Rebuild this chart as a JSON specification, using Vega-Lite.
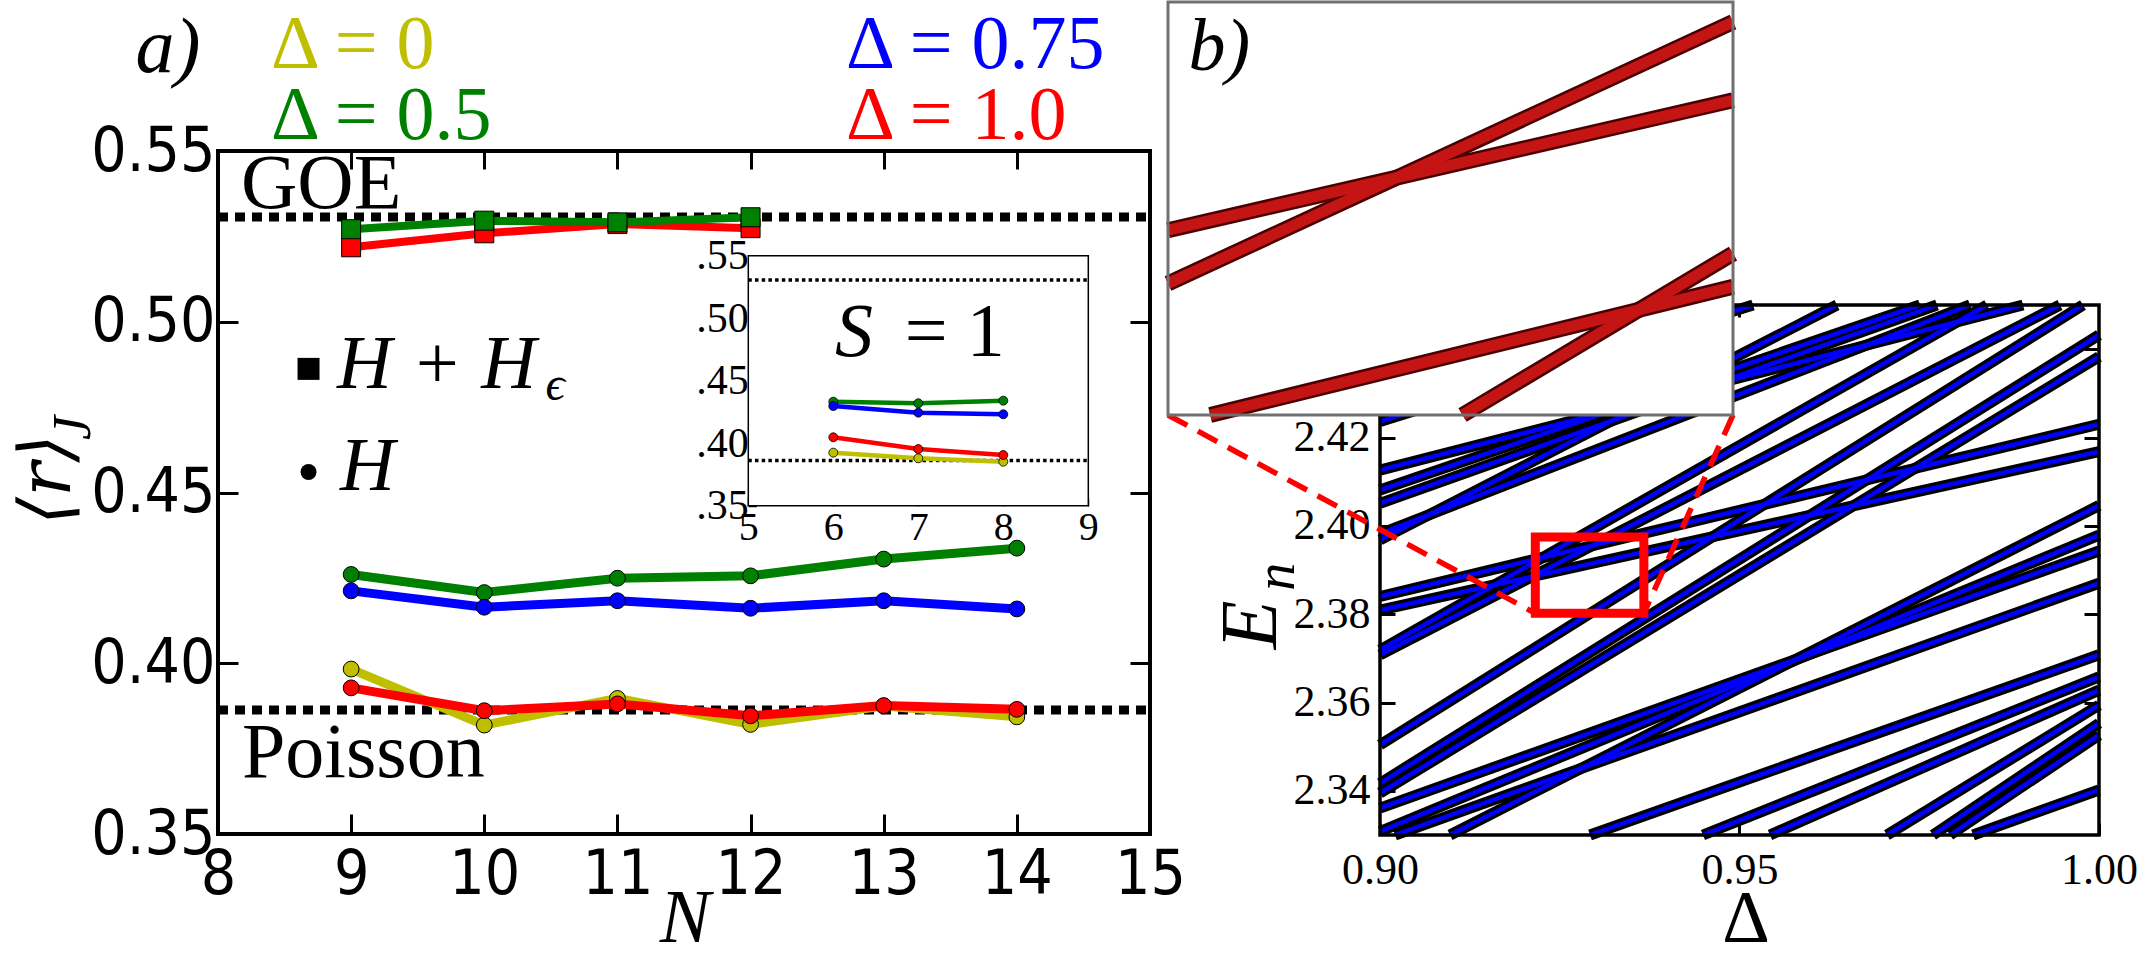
{
  "$schema": "https://vega.github.io/schema/vega-lite/v6.json",
  "background": "white",
  "padding": 0,
  "autosize": {"type": "none"},
  "width": 2140,
  "height": 959,
  "config": {
    "view": {"stroke": null},
    "axis": {"grid": false, "domain": false, "tickColor": "black", "labelColor": "black"},
    "legend": {"disable": true}
  },
  "datasets": {
    "mainA": [
      {"N": 9, "r": 0.3983, "delta": "0", "model": "H"},
      {"N": 10, "r": 0.3819, "delta": "0", "model": "H"},
      {"N": 11, "r": 0.3897, "delta": "0", "model": "H"},
      {"N": 12, "r": 0.3821, "delta": "0", "model": "H"},
      {"N": 13, "r": 0.3875, "delta": "0", "model": "H"},
      {"N": 14, "r": 0.3843, "delta": "0", "model": "H"},
      {"N": 9, "r": 0.4260, "delta": "0.5", "model": "H"},
      {"N": 10, "r": 0.4207, "delta": "0.5", "model": "H"},
      {"N": 11, "r": 0.4249, "delta": "0.5", "model": "H"},
      {"N": 12, "r": 0.4256, "delta": "0.5", "model": "H"},
      {"N": 13, "r": 0.4305, "delta": "0.5", "model": "H"},
      {"N": 14, "r": 0.4337, "delta": "0.5", "model": "H"},
      {"N": 9, "r": 0.4212, "delta": "0.75", "model": "H"},
      {"N": 10, "r": 0.4164, "delta": "0.75", "model": "H"},
      {"N": 11, "r": 0.4183, "delta": "0.75", "model": "H"},
      {"N": 12, "r": 0.4161, "delta": "0.75", "model": "H"},
      {"N": 13, "r": 0.4183, "delta": "0.75", "model": "H"},
      {"N": 14, "r": 0.4159, "delta": "0.75", "model": "H"},
      {"N": 9, "r": 0.3928, "delta": "1.0", "model": "H"},
      {"N": 10, "r": 0.3861, "delta": "1.0", "model": "H"},
      {"N": 11, "r": 0.3881, "delta": "1.0", "model": "H"},
      {"N": 12, "r": 0.3846, "delta": "1.0", "model": "H"},
      {"N": 13, "r": 0.3876, "delta": "1.0", "model": "H"},
      {"N": 14, "r": 0.3865, "delta": "1.0", "model": "H"},
      {"N": 9, "r": 0.5218, "delta": "1.0", "model": "HHe"},
      {"N": 10, "r": 0.5259, "delta": "1.0", "model": "HHe"},
      {"N": 11, "r": 0.5286, "delta": "1.0", "model": "HHe"},
      {"N": 12, "r": 0.5274, "delta": "1.0", "model": "HHe"},
      {"N": 9, "r": 0.5271, "delta": "0.5", "model": "HHe"},
      {"N": 10, "r": 0.5296, "delta": "0.5", "model": "HHe"},
      {"N": 11, "r": 0.5291, "delta": "0.5", "model": "HHe"},
      {"N": 12, "r": 0.5306, "delta": "0.5", "model": "HHe"}
    ],
    "insetA": [
      {"N": 6, "r": 0.3925, "delta": "0"},
      {"N": 7, "r": 0.3880, "delta": "0"},
      {"N": 8, "r": 0.3853, "delta": "0"},
      {"N": 6, "r": 0.4333, "delta": "0.5"},
      {"N": 7, "r": 0.4320, "delta": "0.5"},
      {"N": 8, "r": 0.4341, "delta": "0.5"},
      {"N": 6, "r": 0.4298, "delta": "0.75"},
      {"N": 7, "r": 0.4245, "delta": "0.75"},
      {"N": 8, "r": 0.4232, "delta": "0.75"},
      {"N": 6, "r": 0.4048, "delta": "1.0"},
      {"N": 7, "r": 0.3954, "delta": "1.0"},
      {"N": 8, "r": 0.3906, "delta": "1.0"}
    ],
    "levels": [
      {"id": 1, "d": 0.9, "E": 2.4236}, {"id": 1, "d": 0.95188, "E": 2.45},
      {"id": 2, "d": 0.9, "E": 2.4081}, {"id": 2, "d": 0.9751, "E": 2.45},
      {"id": 3, "d": 0.9, "E": 2.4051}, {"id": 3, "d": 0.97747, "E": 2.45},
      {"id": 4, "d": 0.9, "E": 2.3968}, {"id": 4, "d": 0.96356, "E": 2.45},
      {"id": 5, "d": 0.9, "E": 2.3982}, {"id": 5, "d": 0.98206, "E": 2.45},
      {"id": 6, "d": 0.9, "E": 2.4126}, {"id": 6, "d": 0.98943, "E": 2.45},
      {"id": 7, "d": 0.9, "E": 2.384}, {"id": 7, "d": 1.0, "E": 2.423},
      {"id": 8, "d": 0.9, "E": 2.3809}, {"id": 8, "d": 1.0, "E": 2.4168},
      {"id": 9, "d": 0.9, "E": 2.3719}, {"id": 9, "d": 0.98442, "E": 2.45},
      {"id": 10, "d": 0.9, "E": 2.3708}, {"id": 10, "d": 0.99457, "E": 2.45},
      {"id": 11, "d": 0.9, "E": 2.3504}, {"id": 11, "d": 0.99777, "E": 2.45},
      {"id": 12, "d": 0.9, "E": 2.3417}, {"id": 12, "d": 1.0, "E": 2.4432},
      {"id": 13, "d": 0.9, "E": 2.3395}, {"id": 13, "d": 1.0, "E": 2.4383},
      {"id": 14, "d": 0.9, "E": 2.3361}, {"id": 14, "d": 1.0, "E": 2.3943},
      {"id": 15, "d": 0.9, "E": 2.3308}, {"id": 15, "d": 1.0, "E": 2.3979},
      {"id": 16, "d": 0.90974, "E": 2.33}, {"id": 16, "d": 1.0, "E": 2.4046},
      {"id": 17, "d": 0.92921, "E": 2.33}, {"id": 17, "d": 1.0, "E": 2.3708},
      {"id": 18, "d": 0.94492, "E": 2.33}, {"id": 18, "d": 1.0, "E": 2.3658},
      {"id": 19, "d": 0.95424, "E": 2.33}, {"id": 19, "d": 1.0, "E": 2.3628},
      {"id": 20, "d": 0.97051, "E": 2.33}, {"id": 20, "d": 1.0, "E": 2.3594},
      {"id": 21, "d": 0.97691, "E": 2.33}, {"id": 21, "d": 1.0, "E": 2.3553},
      {"id": 22, "d": 0.97928, "E": 2.33}, {"id": 22, "d": 1.0, "E": 2.3526},
      {"id": 23, "d": 0.98248, "E": 2.33}, {"id": 23, "d": 1.0, "E": 2.3402},
      {"id": 24, "d": 0.90209, "E": 2.33}, {"id": 24, "d": 1.0, "E": 2.387}
    ],
    "zoomLevels": [
      {"id": 1, "d": 0.92, "E": 2.38895}, {"id": 1, "d": 0.935, "E": 2.39524},
      {"id": 2, "d": 0.92, "E": 2.38637}, {"id": 2, "d": 0.935, "E": 2.39903},
      {"id": 3, "d": 0.92112, "E": 2.38}, {"id": 3, "d": 0.935, "E": 2.38621},
      {"id": 4, "d": 0.92782, "E": 2.38}, {"id": 4, "d": 0.935, "E": 2.38782}
    ]
  },
  "resolve": {"scale": {"x": "independent", "y": "independent"}, "axis": {"x": "independent", "y": "independent"}},
  "layer": [
    {
      "resolve": {"axis": {"x": "independent", "y": "independent"}},
      "layer": [
        {
          "data": {"values": [{"r": 0.5307}, {"r": 0.3863}]},
          "mark": {"type": "rule", "color": "black", "strokeWidth": 9, "strokeDash": [10, 7]},
          "encoding": {
            "x": {"datum": 8, "type": "quantitative", "scale": {"domain": [8, 15], "range": [218, 1150], "nice": false, "zero": false}, "axis": null},
            "x2": {"datum": 15},
            "y": {"field": "r", "type": "quantitative", "scale": {"domain": [0.35, 0.55], "range": [834, 151], "nice": false, "zero": false}, "axis": null}
          }
        },
        {
          "data": {"name": "mainA"},
          "transform": [{"filter": "datum.model === 'H'"}],
          "mark": {"type": "line", "strokeWidth": 9},
          "encoding": {
            "x": {"field": "N", "type": "quantitative", "scale": {"domain": [8, 15], "range": [218, 1150], "nice": false, "zero": false},
              "axis": {"orient": "bottom", "offset": -125, "values": [8, 9, 10, 11, 12, 13, 14, 15], "format": "d", "tickSize": -20, "tickWidth": 3, "labelFont": "DejaVu Sans Condensed", "labelFontSize": 62, "labelPadding": 30, "labelFlush": false, "labelOverlap": false, "title": null}},
            "y": {"field": "r", "type": "quantitative", "scale": {"domain": [0.35, 0.55], "range": [834, 151], "nice": false, "zero": false},
              "axis": {"orient": "left", "offset": -218, "values": [0.35, 0.4, 0.45, 0.5, 0.55], "format": ".2f", "tickSize": -20, "tickWidth": 3, "labelFont": "DejaVu Sans Condensed", "labelFontSize": 62, "labelPadding": 23, "labelFlush": false, "labelOverlap": false, "title": null}},
            "color": {"field": "delta", "type": "nominal", "scale": {"domain": ["0", "0.5", "0.75", "1.0"], "range": ["#bfbf00", "#008000", "#0000ff", "#ff0000"]}, "legend": null}
          }
        },
        {
          "data": {"name": "mainA"},
          "transform": [{"filter": "datum.model === 'H'"}],
          "mark": {"type": "point", "filled": true, "size": 250, "stroke": "black", "strokeWidth": 1, "opacity": 1},
          "encoding": {
            "x": {"field": "N", "type": "quantitative", "scale": {"domain": [8, 15], "range": [218, 1150], "nice": false, "zero": false},
              "axis": {"orient": "top", "offset": -151, "values": [9, 10, 11, 12, 13, 14], "labels": false, "tickSize": -18, "tickWidth": 3, "title": null}},
            "y": {"field": "r", "type": "quantitative", "scale": {"domain": [0.35, 0.55], "range": [834, 151], "nice": false, "zero": false},
              "axis": {"orient": "right", "offset": -990, "values": [0.4, 0.45, 0.5], "labels": false, "tickSize": -20, "tickWidth": 3, "title": null}},
            "fill": {"field": "delta", "type": "nominal", "scale": {"domain": ["0", "0.5", "0.75", "1.0"], "range": ["#bfbf00", "#008000", "#0000ff", "#ff0000"]}, "legend": null}
          }
        },
        {
          "data": {"name": "mainA"},
          "transform": [{"filter": "datum.model === 'HHe'"}],
          "mark": {"type": "line", "strokeWidth": 8},
          "encoding": {
            "x": {"field": "N", "type": "quantitative", "scale": {"domain": [8, 15], "range": [218, 1150], "nice": false, "zero": false}, "axis": null},
            "y": {"field": "r", "type": "quantitative", "scale": {"domain": [0.35, 0.55], "range": [834, 151], "nice": false, "zero": false}, "axis": null},
            "color": {"field": "delta", "type": "nominal", "scale": {"domain": ["0", "0.5", "0.75", "1.0"], "range": ["#bfbf00", "#008000", "#0000ff", "#ff0000"]}, "legend": null}
          }
        },
        {
          "data": {"name": "mainA"},
          "transform": [{"filter": "datum.model === 'HHe'"}],
          "mark": {"type": "point", "shape": "square", "filled": true, "size": 360, "stroke": "black", "strokeWidth": 1, "opacity": 1},
          "encoding": {
            "x": {"field": "N", "type": "quantitative", "scale": {"domain": [8, 15], "range": [218, 1150], "nice": false, "zero": false}, "axis": null},
            "y": {"field": "r", "type": "quantitative", "scale": {"domain": [0.35, 0.55], "range": [834, 151], "nice": false, "zero": false}, "axis": null},
            "fill": {"field": "delta", "type": "nominal", "scale": {"domain": ["0", "0.5", "0.75", "1.0"], "range": ["#bfbf00", "#008000", "#0000ff", "#ff0000"]}, "legend": null}
          }
        },
        {
          "data": {"values": [{"sym": "H + Hε"}]},
          "mark": {"type": "point", "shape": "square", "filled": true, "size": 484, "color": "black", "opacity": 1},
          "encoding": {
            "x": {"datum": 8.68, "type": "quantitative", "scale": {"domain": [8, 15], "range": [218, 1150], "nice": false, "zero": false}, "axis": null},
            "y": {"datum": 0.4862, "type": "quantitative", "scale": {"domain": [0.35, 0.55], "range": [834, 151], "nice": false, "zero": false}, "axis": null}
          }
        },
        {
          "data": {"values": [{"sym": "H"}]},
          "mark": {"type": "point", "shape": "circle", "filled": true, "size": 256, "color": "black", "opacity": 1},
          "encoding": {
            "x": {"datum": 8.68, "type": "quantitative", "scale": {"domain": [8, 15], "range": [218, 1150], "nice": false, "zero": false}, "axis": null},
            "y": {"datum": 0.456, "type": "quantitative", "scale": {"domain": [0.35, 0.55], "range": [834, 151], "nice": false, "zero": false}, "axis": null}
          }
        },
        {
          "data": {"values": [{"label": "GOE"}]},
          "mark": {"type": "text", "font": "Liberation Serif", "fontSize": 78, "align": "left", "baseline": "alphabetic", "color": "black"},
          "encoding": {
            "text": {"field": "label"},
            "x": {"datum": 8.173, "type": "quantitative", "scale": {"domain": [8, 15], "range": [218, 1150], "nice": false, "zero": false}, "axis": null},
            "y": {"datum": 0.5333, "type": "quantitative", "scale": {"domain": [0.35, 0.55], "range": [834, 151], "nice": false, "zero": false}, "axis": null}
          }
        },
        {
          "data": {"values": [{"label": "Poisson"}]},
          "mark": {"type": "text", "font": "Liberation Serif", "fontSize": 78, "align": "left", "baseline": "alphabetic", "color": "black"},
          "encoding": {
            "text": {"field": "label"},
            "x": {"datum": 8.18, "type": "quantitative", "scale": {"domain": [8, 15], "range": [218, 1150], "nice": false, "zero": false}, "axis": null},
            "y": {"datum": 0.3667, "type": "quantitative", "scale": {"domain": [0.35, 0.55], "range": [834, 151], "nice": false, "zero": false}, "axis": null}
          }
        },
        {
          "data": {"values": [{"label": "H + H"}]},
          "mark": {"type": "text", "font": "Liberation Serif", "fontStyle": "italic", "fontSize": 76, "align": "left", "baseline": "alphabetic", "color": "black"},
          "encoding": {
            "text": {"field": "label"},
            "x": {"datum": 8.894, "type": "quantitative", "scale": {"domain": [8, 15], "range": [218, 1150], "nice": false, "zero": false}, "axis": null},
            "y": {"datum": 0.4806, "type": "quantitative", "scale": {"domain": [0.35, 0.55], "range": [834, 151], "nice": false, "zero": false}, "axis": null}
          }
        },
        {
          "data": {"values": [{"label": "ϵ"}]},
          "mark": {"type": "text", "font": "Liberation Serif", "fontStyle": "italic", "fontSize": 48, "align": "left", "baseline": "alphabetic", "color": "black"},
          "encoding": {
            "text": {"field": "label"},
            "x": {"datum": 10.46, "type": "quantitative", "scale": {"domain": [8, 15], "range": [218, 1150], "nice": false, "zero": false}, "axis": null},
            "y": {"datum": 0.4771, "type": "quantitative", "scale": {"domain": [0.35, 0.55], "range": [834, 151], "nice": false, "zero": false}, "axis": null}
          }
        },
        {
          "data": {"values": [{"label": "H"}]},
          "mark": {"type": "text", "font": "Liberation Serif", "fontStyle": "italic", "fontSize": 76, "align": "left", "baseline": "alphabetic", "color": "black"},
          "encoding": {
            "text": {"field": "label"},
            "x": {"datum": 8.916, "type": "quantitative", "scale": {"domain": [8, 15], "range": [218, 1150], "nice": false, "zero": false}, "axis": null},
            "y": {"datum": 0.4507, "type": "quantitative", "scale": {"domain": [0.35, 0.55], "range": [834, 151], "nice": false, "zero": false}, "axis": null}
          }
        },
        {
          "data": {"values": [{"label": "Δ = 0"}]},
          "mark": {"type": "text", "font": "Liberation Serif", "fontSize": 76, "align": "left", "baseline": "alphabetic", "color": "#bfbf00"},
          "encoding": {
            "text": {"field": "label"},
            "x": {"datum": 8.398, "type": "quantitative", "scale": {"domain": [8, 15], "range": [218, 1150], "nice": false, "zero": false}, "axis": null},
            "y": {"datum": 0.5743, "type": "quantitative", "scale": {"domain": [0.35, 0.55], "range": [834, 151], "nice": false, "zero": false}, "axis": null}
          }
        },
        {
          "data": {"values": [{"label": "Δ = 0.5"}]},
          "mark": {"type": "text", "font": "Liberation Serif", "fontSize": 76, "align": "left", "baseline": "alphabetic", "color": "#008000"},
          "encoding": {
            "text": {"field": "label"},
            "x": {"datum": 8.398, "type": "quantitative", "scale": {"domain": [8, 15], "range": [218, 1150], "nice": false, "zero": false}, "axis": null},
            "y": {"datum": 0.5535, "type": "quantitative", "scale": {"domain": [0.35, 0.55], "range": [834, 151], "nice": false, "zero": false}, "axis": null}
          }
        },
        {
          "data": {"values": [{"label": "Δ = 0.75"}]},
          "mark": {"type": "text", "font": "Liberation Serif", "fontSize": 76, "align": "left", "baseline": "alphabetic", "color": "#0000ff"},
          "encoding": {
            "text": {"field": "label"},
            "x": {"datum": 12.717, "type": "quantitative", "scale": {"domain": [8, 15], "range": [218, 1150], "nice": false, "zero": false}, "axis": null},
            "y": {"datum": 0.5743, "type": "quantitative", "scale": {"domain": [0.35, 0.55], "range": [834, 151], "nice": false, "zero": false}, "axis": null}
          }
        },
        {
          "data": {"values": [{"label": "Δ = 1.0"}]},
          "mark": {"type": "text", "font": "Liberation Serif", "fontSize": 76, "align": "left", "baseline": "alphabetic", "color": "#ff0000"},
          "encoding": {
            "text": {"field": "label"},
            "x": {"datum": 12.717, "type": "quantitative", "scale": {"domain": [8, 15], "range": [218, 1150], "nice": false, "zero": false}, "axis": null},
            "y": {"datum": 0.5535, "type": "quantitative", "scale": {"domain": [0.35, 0.55], "range": [834, 151], "nice": false, "zero": false}, "axis": null}
          }
        },
        {
          "data": {"values": [{"label": "a)"}]},
          "mark": {"type": "text", "font": "Liberation Serif", "fontStyle": "italic", "fontSize": 78, "align": "center", "baseline": "alphabetic", "color": "black"},
          "encoding": {
            "text": {"field": "label"},
            "x": {"datum": 7.6245, "type": "quantitative", "scale": {"domain": [8, 15], "range": [218, 1150], "nice": false, "zero": false}, "axis": null},
            "y": {"datum": 0.5731, "type": "quantitative", "scale": {"domain": [0.35, 0.55], "range": [834, 151], "nice": false, "zero": false}, "axis": null}
          }
        },
        {
          "data": {"values": [{"label": "N"}]},
          "mark": {"type": "text", "font": "Liberation Serif", "fontStyle": "italic", "fontSize": 76, "align": "center", "baseline": "alphabetic", "color": "black"},
          "encoding": {
            "text": {"field": "label"},
            "x": {"datum": 11.508, "type": "quantitative", "scale": {"domain": [8, 15], "range": [218, 1150], "nice": false, "zero": false}, "axis": null},
            "y": {"datum": 0.3184, "type": "quantitative", "scale": {"domain": [0.35, 0.55], "range": [834, 151], "nice": false, "zero": false}, "axis": null}
          }
        },
        {
          "data": {"values": [{"label": "⟨r⟩"}]},
          "mark": {"type": "text", "font": "DejaVu Serif", "fontStyle": "italic", "fontSize": 72, "angle": 270, "align": "left", "baseline": "alphabetic", "color": "black"},
          "encoding": {
            "text": {"field": "label"},
            "x": {"datum": 6.888, "type": "quantitative", "scale": {"domain": [8, 15], "range": [218, 1150], "nice": false, "zero": false}, "axis": null},
            "y": {"datum": 0.4405, "type": "quantitative", "scale": {"domain": [0.35, 0.55], "range": [834, 151], "nice": false, "zero": false}, "axis": null}
          }
        },
        {
          "data": {"values": [{"label": "J"}]},
          "mark": {"type": "text", "font": "Liberation Serif", "fontStyle": "italic", "fontSize": 54, "angle": 270, "align": "left", "baseline": "alphabetic", "color": "black"},
          "encoding": {
            "text": {"field": "label"},
            "x": {"datum": 7.039, "type": "quantitative", "scale": {"domain": [8, 15], "range": [218, 1150], "nice": false, "zero": false}, "axis": null},
            "y": {"datum": 0.4654, "type": "quantitative", "scale": {"domain": [0.35, 0.55], "range": [834, 151], "nice": false, "zero": false}, "axis": null}
          }
        },
        {
          "data": {"values": [{"frame": "a"}]},
          "mark": {"type": "rect", "filled": false, "color": "black", "strokeWidth": 4},
          "encoding": {
            "x": {"datum": 8, "type": "quantitative", "scale": {"domain": [8, 15], "range": [218, 1150], "nice": false, "zero": false}, "axis": null},
            "x2": {"datum": 15},
            "y": {"datum": 0.35, "type": "quantitative", "scale": {"domain": [0.35, 0.55], "range": [834, 151], "nice": false, "zero": false}, "axis": null},
            "y2": {"datum": 0.55}
          }
        }
      ]
    },
    {
      "resolve": {"axis": {"x": "independent", "y": "independent"}},
      "layer": [
        {
          "data": {"values": [{"frame": "inset"}]},
          "mark": {"type": "rect", "color": "white", "opacity": 1},
          "encoding": {
            "x": {"datum": 5, "type": "quantitative", "scale": {"domain": [5, 9], "range": [748.3, 1088.3], "nice": false, "zero": false}, "axis": null},
            "x2": {"datum": 9},
            "y": {"datum": 0.35, "type": "quantitative", "scale": {"domain": [0.35, 0.55], "range": [505.8, 255.8], "nice": false, "zero": false}, "axis": null},
            "y2": {"datum": 0.55}
          }
        },
        {
          "data": {"values": [{"r": 0.5307}, {"r": 0.3863}]},
          "mark": {"type": "rule", "color": "black", "strokeWidth": 3.5, "strokeDash": [3.5, 3.2]},
          "encoding": {
            "x": {"datum": 5, "type": "quantitative", "scale": {"domain": [5, 9], "range": [748.3, 1088.3], "nice": false, "zero": false}, "axis": null},
            "x2": {"datum": 9},
            "y": {"field": "r", "type": "quantitative", "scale": {"domain": [0.35, 0.55], "range": [505.8, 255.8], "nice": false, "zero": false}, "axis": null}
          }
        },
        {
          "data": {"name": "insetA"},
          "mark": {"type": "line", "strokeWidth": 4.5},
          "encoding": {
            "x": {"field": "N", "type": "quantitative", "scale": {"domain": [5, 9], "range": [748.3, 1088.3], "nice": false, "zero": false},
              "axis": {"orient": "bottom", "offset": -453.2, "values": [5, 6, 7, 8, 9], "format": "d", "tickSize": -8, "tickWidth": 1.5, "labelFont": "Liberation Serif", "labelFontSize": 40, "labelPadding": 10, "labelFlush": false, "labelOverlap": false, "title": null}},
            "y": {"field": "r", "type": "quantitative", "scale": {"domain": [0.35, 0.55], "range": [505.8, 255.8], "nice": false, "zero": false},
              "axis": {"orient": "left", "offset": -748.3, "values": [0.35, 0.4, 0.45, 0.5, 0.55], "labelExpr": "replace(format(datum.value, '.2f'), '0.', '.')", "tickSize": -8, "tickWidth": 1.5, "labelFont": "Liberation Serif", "labelFontSize": 42, "labelPadding": 8, "labelFlush": false, "labelOverlap": false, "title": null}},
            "color": {"field": "delta", "type": "nominal", "scale": {"domain": ["0", "0.5", "0.75", "1.0"], "range": ["#bfbf00", "#008000", "#0000ff", "#ff0000"]}, "legend": null}
          }
        },
        {
          "data": {"name": "insetA"},
          "mark": {"type": "point", "filled": true, "size": 80, "stroke": "black", "strokeWidth": 0.8, "opacity": 1},
          "encoding": {
            "x": {"field": "N", "type": "quantitative", "scale": {"domain": [5, 9], "range": [748.3, 1088.3], "nice": false, "zero": false},
              "axis": {"orient": "top", "offset": -255.8, "values": [6, 7, 8], "labels": false, "tickSize": -8, "tickWidth": 1.5, "title": null}},
            "y": {"field": "r", "type": "quantitative", "scale": {"domain": [0.35, 0.55], "range": [505.8, 255.8], "nice": false, "zero": false},
              "axis": {"orient": "right", "offset": -1051.7, "values": [0.4, 0.45, 0.5], "labels": false, "tickSize": -8, "tickWidth": 1.5, "title": null}},
            "fill": {"field": "delta", "type": "nominal", "scale": {"domain": ["0", "0.5", "0.75", "1.0"], "range": ["#bfbf00", "#008000", "#0000ff", "#ff0000"]}, "legend": null}
          }
        },
        {
          "data": {"values": [{"label": "S"}]},
          "mark": {"type": "text", "font": "Liberation Serif", "fontStyle": "italic", "fontSize": 76, "align": "left", "baseline": "alphabetic", "color": "black"},
          "encoding": {
            "text": {"field": "label"},
            "x": {"datum": 6.02, "type": "quantitative", "scale": {"domain": [5, 9], "range": [748.3, 1088.3], "nice": false, "zero": false}, "axis": null},
            "y": {"datum": 0.4698, "type": "quantitative", "scale": {"domain": [0.35, 0.55], "range": [505.8, 255.8], "nice": false, "zero": false}, "axis": null}
          }
        },
        {
          "data": {"values": [{"label": "=  1"}]},
          "mark": {"type": "text", "font": "Liberation Serif", "fontSize": 76, "align": "left", "baseline": "alphabetic", "color": "black"},
          "encoding": {
            "text": {"field": "label"},
            "x": {"datum": 6.842, "type": "quantitative", "scale": {"domain": [5, 9], "range": [748.3, 1088.3], "nice": false, "zero": false}, "axis": null},
            "y": {"datum": 0.4698, "type": "quantitative", "scale": {"domain": [0.35, 0.55], "range": [505.8, 255.8], "nice": false, "zero": false}, "axis": null}
          }
        },
        {
          "data": {"values": [{"frame": "inset"}]},
          "mark": {"type": "rect", "filled": false, "color": "black", "strokeWidth": 1.5},
          "encoding": {
            "x": {"datum": 5, "type": "quantitative", "scale": {"domain": [5, 9], "range": [748.3, 1088.3], "nice": false, "zero": false}, "axis": null},
            "x2": {"datum": 9},
            "y": {"datum": 0.35, "type": "quantitative", "scale": {"domain": [0.35, 0.55], "range": [505.8, 255.8], "nice": false, "zero": false}, "axis": null},
            "y2": {"datum": 0.55}
          }
        }
      ]
    },
    {
      "resolve": {"axis": {"x": "independent", "y": "independent"}},
      "layer": [
        {
          "data": {"name": "levels"},
          "mark": {"type": "line", "color": "black", "strokeWidth": 11},
          "encoding": {
            "x": {"field": "d", "type": "quantitative", "scale": {"domain": [0.9, 1.0], "range": [1380, 2099], "nice": false, "zero": false},
              "axis": {"orient": "bottom", "offset": -124, "values": [0.9, 0.95, 1.0], "format": ".2f", "tickSize": -12, "tickWidth": 3, "labelFont": "Liberation Serif", "labelFontSize": 44, "labelPadding": 25, "labelFlush": false, "labelOverlap": false, "title": null}},
            "y": {"field": "E", "type": "quantitative", "scale": {"domain": [2.33, 2.45], "range": [835, 305], "nice": false, "zero": false},
              "axis": {"orient": "left", "offset": -1380, "values": [2.34, 2.36, 2.38, 2.4, 2.42, 2.44], "format": ".2f", "tickSize": -15, "tickWidth": 3, "labelFont": "Liberation Serif", "labelFontSize": 44, "labelPadding": 25, "labelFlush": false, "labelOverlap": false, "title": null}},
            "detail": {"field": "id", "type": "nominal"}
          }
        },
        {
          "data": {"name": "levels"},
          "mark": {"type": "line", "color": "#0000ff", "strokeWidth": 4.5},
          "encoding": {
            "x": {"field": "d", "type": "quantitative", "scale": {"domain": [0.9, 1.0], "range": [1380, 2099], "nice": false, "zero": false},
              "axis": {"orient": "top", "offset": -305, "values": [0.95], "labels": false, "tickSize": -12, "tickWidth": 3, "title": null}},
            "y": {"field": "E", "type": "quantitative", "scale": {"domain": [2.33, 2.45], "range": [835, 305], "nice": false, "zero": false},
              "axis": {"orient": "right", "offset": -41, "values": [2.34, 2.36, 2.38, 2.4, 2.42, 2.44], "labels": false, "tickSize": -15, "tickWidth": 3, "title": null}},
            "detail": {"field": "id", "type": "nominal"}
          }
        },
        {
          "data": {"values": [{"frame": "b"}]},
          "mark": {"type": "rect", "filled": false, "color": "black", "strokeWidth": 3.5},
          "encoding": {
            "x": {"datum": 0.9, "type": "quantitative", "scale": {"domain": [0.9, 1.0], "range": [1380, 2099], "nice": false, "zero": false}, "axis": null},
            "x2": {"datum": 1.0},
            "y": {"datum": 2.33, "type": "quantitative", "scale": {"domain": [2.33, 2.45], "range": [835, 305], "nice": false, "zero": false}, "axis": null},
            "y2": {"datum": 2.45}
          }
        },
        {
          "data": {"values": [{"d": 0.9216, "d2": 0.9367, "E": 2.3802, "E2": 2.3975}]},
          "mark": {"type": "rect", "filled": false, "color": "#ff0000", "strokeWidth": 9},
          "encoding": {
            "x": {"field": "d", "type": "quantitative", "scale": {"domain": [0.9, 1.0], "range": [1380, 2099], "nice": false, "zero": false}, "axis": null},
            "x2": {"field": "d2"},
            "y": {"field": "E", "type": "quantitative", "scale": {"domain": [2.33, 2.45], "range": [835, 305], "nice": false, "zero": false}, "axis": null},
            "y2": {"field": "E2"}
          }
        },
        {
          "data": {"values": [{"d": 0.87051, "E": 2.4251, "d2": 0.9216, "E2": 2.3802}, {"d": 0.9491, "E": 2.4251, "d2": 0.9367, "E2": 2.3802}]},
          "mark": {"type": "rule", "color": "#ff0000", "strokeWidth": 5.5, "strokeDash": [22, 12]},
          "encoding": {
            "x": {"field": "d", "type": "quantitative", "scale": {"domain": [0.9, 1.0], "range": [1380, 2099], "nice": false, "zero": false}, "axis": null},
            "x2": {"field": "d2"},
            "y": {"field": "E", "type": "quantitative", "scale": {"domain": [2.33, 2.45], "range": [835, 305], "nice": false, "zero": false}, "axis": null},
            "y2": {"field": "E2"}
          }
        },
        {
          "data": {"values": [{"label": "E"}]},
          "mark": {"type": "text", "font": "Liberation Serif", "fontStyle": "italic", "fontSize": 80, "angle": 270, "align": "center", "baseline": "middle", "color": "black"},
          "encoding": {
            "text": {"field": "label"},
            "x": {"datum": 0.8822, "type": "quantitative", "scale": {"domain": [0.9, 1.0], "range": [1380, 2099], "nice": false, "zero": false}, "axis": null},
            "y": {"datum": 2.3776, "type": "quantitative", "scale": {"domain": [2.33, 2.45], "range": [835, 305], "nice": false, "zero": false}, "axis": null}
          }
        },
        {
          "data": {"values": [{"label": "n"}]},
          "mark": {"type": "text", "font": "Liberation Serif", "fontStyle": "italic", "fontSize": 56, "angle": 270, "align": "center", "baseline": "middle", "color": "black"},
          "encoding": {
            "text": {"field": "label"},
            "x": {"datum": 0.8857, "type": "quantitative", "scale": {"domain": [0.9, 1.0], "range": [1380, 2099], "nice": false, "zero": false}, "axis": null},
            "y": {"datum": 2.3885, "type": "quantitative", "scale": {"domain": [2.33, 2.45], "range": [835, 305], "nice": false, "zero": false}, "axis": null}
          }
        },
        {
          "data": {"values": [{"label": "Δ"}]},
          "mark": {"type": "text", "font": "Liberation Serif", "fontSize": 74, "align": "center", "baseline": "alphabetic", "color": "black"},
          "encoding": {
            "text": {"field": "label"},
            "x": {"datum": 0.9509, "type": "quantitative", "scale": {"domain": [0.9, 1.0], "range": [1380, 2099], "nice": false, "zero": false}, "axis": null},
            "y": {"datum": 2.3058, "type": "quantitative", "scale": {"domain": [2.33, 2.45], "range": [835, 305], "nice": false, "zero": false}, "axis": null}
          }
        }
      ]
    },
    {
      "resolve": {"axis": {"x": "independent", "y": "independent"}},
      "layer": [
        {
          "data": {"values": [{"frame": "zoom"}]},
          "mark": {"type": "rect", "color": "white", "opacity": 1},
          "encoding": {
            "x": {"datum": 0.92, "type": "quantitative", "scale": {"domain": [0.92, 0.935], "range": [1168, 1733], "nice": false, "zero": false}, "axis": null},
            "x2": {"datum": 0.935},
            "y": {"datum": 2.38, "type": "quantitative", "scale": {"domain": [2.38, 2.4], "range": [415, 2], "nice": false, "zero": false}, "axis": null},
            "y2": {"datum": 2.4}
          }
        },
        {
          "data": {"name": "zoomLevels"},
          "mark": {"type": "line", "color": "#4a0000", "strokeWidth": 16},
          "encoding": {
            "x": {"field": "d", "type": "quantitative", "scale": {"domain": [0.92, 0.935], "range": [1168, 1733], "nice": false, "zero": false},
              "axis": {"orient": "bottom", "offset": -544, "values": [0.925, 0.93], "labels": false, "tickSize": -12, "tickWidth": 2.5, "tickColor": "#707070", "title": null}},
            "y": {"field": "E", "type": "quantitative", "scale": {"domain": [2.38, 2.4], "range": [415, 2], "nice": false, "zero": false},
              "axis": {"orient": "left", "offset": -1168, "values": [2.39], "labels": false, "tickSize": -12, "tickWidth": 2.5, "tickColor": "#707070", "title": null}},
            "detail": {"field": "id", "type": "nominal"}
          }
        },
        {
          "data": {"name": "zoomLevels"},
          "mark": {"type": "line", "color": "#c41414", "strokeWidth": 11},
          "encoding": {
            "x": {"field": "d", "type": "quantitative", "scale": {"domain": [0.92, 0.935], "range": [1168, 1733], "nice": false, "zero": false},
              "axis": {"orient": "top", "offset": -2, "values": [0.925, 0.93], "labels": false, "tickSize": -12, "tickWidth": 2.5, "tickColor": "#707070", "title": null}},
            "y": {"field": "E", "type": "quantitative", "scale": {"domain": [2.38, 2.4], "range": [415, 2], "nice": false, "zero": false},
              "axis": {"orient": "right", "offset": -407, "values": [2.39], "labels": false, "tickSize": -12, "tickWidth": 2.5, "tickColor": "#707070", "title": null}},
            "detail": {"field": "id", "type": "nominal"}
          }
        },
        {
          "data": {"values": [{"label": "b)"}]},
          "mark": {"type": "text", "font": "Liberation Serif", "fontStyle": "italic", "fontSize": 74, "align": "center", "baseline": "alphabetic", "color": "black"},
          "encoding": {
            "text": {"field": "label"},
            "x": {"datum": 0.92136, "type": "quantitative", "scale": {"domain": [0.92, 0.935], "range": [1168, 1733], "nice": false, "zero": false}, "axis": null},
            "y": {"datum": 2.39671, "type": "quantitative", "scale": {"domain": [2.38, 2.4], "range": [415, 2], "nice": false, "zero": false}, "axis": null}
          }
        },
        {
          "data": {"values": [{"frame": "zoom"}]},
          "mark": {"type": "rect", "filled": false, "color": "#707070", "strokeWidth": 3},
          "encoding": {
            "x": {"datum": 0.92, "type": "quantitative", "scale": {"domain": [0.92, 0.935], "range": [1168, 1733], "nice": false, "zero": false}, "axis": null},
            "x2": {"datum": 0.935},
            "y": {"datum": 2.38, "type": "quantitative", "scale": {"domain": [2.38, 2.4], "range": [415, 2], "nice": false, "zero": false}, "axis": null},
            "y2": {"datum": 2.4}
          }
        }
      ]
    }
  ]
}
